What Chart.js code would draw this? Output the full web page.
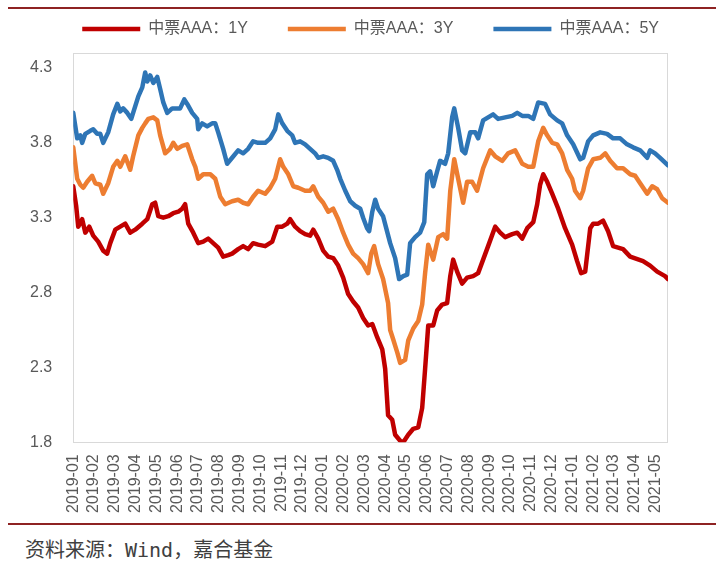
<!DOCTYPE html>
<html>
<head>
<meta charset="utf-8">
<script src="https://cdn.jsdelivr.net/npm/chart.js@4/dist/chart.umd.min.js"></script>
<style>
  html, body { margin: 0; padding: 0; background: #fff; overflow: hidden; }
  #wrap { position: relative; width: 716px; height: 568px; }
  #chart { position: absolute; left: 0; top: 0; }
  .rule { position: absolute; left: 8px; right: 0; height: 2px; background: #8e2323; }
  #source { position: absolute; left: 25px; top: 534px; font: 20px "DejaVu Sans Mono", "Noto Sans CJK SC", monospace; color: #404040; }
</style>
</head>
<body>
<div id="wrap">
  <div class="rule" style="top:7px"></div>
  <canvas id="chart" width="716" height="530"></canvas>
  <div class="rule" style="top:523px"></div>
  <div id="source">资料来源：Wind，嘉合基金</div>
</div>
<script>
// month labels on the x axis, one per month starting 2019-01
var monthLabels = ['2019-01', '2019-02', '2019-03', '2019-04', '2019-05', '2019-06',
  '2019-07', '2019-08', '2019-09', '2019-10', '2019-11', '2019-12',
  '2020-01', '2020-02', '2020-03', '2020-04', '2020-05', '2020-06',
  '2020-07', '2020-08', '2020-09', '2020-10', '2020-11', '2020-12',
  '2021-01', '2021-02', '2021-03', '2021-04', '2021-05'];
var yTicks = [1.8, 2.3, 2.8, 3.3, 3.8, 4.3];
var seriesNames = ['中票AAA：1Y', '中票AAA：3Y', '中票AAA：5Y'];
var colors = ['#c00000', '#ed7d31', '#2e75b6'];

// x = months since 2019-01-01, y = yield (%)
var x1Y = [0, 0.14, 0.24, 0.43, 0.58, 0.77, 0.96, 1.20, 1.44, 1.63,
  1.78, 2.02, 2.26, 2.50, 2.74, 2.98, 3.32, 3.56, 3.80, 3.94,
  4.09, 4.33, 4.57, 4.81, 5.05, 5.24, 5.38, 5.53, 5.77, 6.01,
  6.25, 6.49, 6.73, 6.97, 7.21, 7.45, 7.64, 7.93, 8.17, 8.41,
  8.65, 8.89, 9.23, 9.57, 9.81, 10.05, 10.29, 10.43, 10.67, 10.91,
  11.15, 11.39, 11.54, 11.78, 12.02, 12.26, 12.50, 12.74, 12.98, 13.22,
  13.46, 13.70, 13.94, 14.18, 14.38, 14.62, 14.86, 15.00, 15.14, 15.34,
  15.48, 15.72, 15.87, 16.11, 16.35, 16.59, 16.78, 16.92, 17.07, 17.31,
  17.50, 17.74, 17.98, 18.13, 18.27, 18.46, 18.70, 18.94, 19.23, 19.47,
  19.71, 19.95, 20.29, 20.53, 20.77, 21.11, 21.35, 21.59, 21.83, 22.12,
  22.31, 22.45, 22.60, 22.79, 23.03, 23.32, 23.65, 23.99, 24.23, 24.42,
  24.62, 24.86, 25.00, 25.24, 25.48, 25.72, 25.96, 26.44, 26.78, 27.40,
  27.74, 28.08, 28.46, 28.60];
var y1Y = [3.51, 3.38, 3.24, 3.29, 3.20, 3.24, 3.18, 3.14, 3.08, 3.06,
  3.13, 3.22, 3.24, 3.26, 3.20, 3.22, 3.26, 3.29, 3.39, 3.40,
  3.31, 3.30, 3.31, 3.33, 3.34, 3.36, 3.39, 3.26, 3.20, 3.13,
  3.14, 3.16, 3.13, 3.10, 3.04, 3.05, 3.06, 3.09, 3.11, 3.09,
  3.13, 3.12, 3.11, 3.14, 3.24, 3.24, 3.26, 3.29, 3.24, 3.21,
  3.19, 3.18, 3.22, 3.16, 3.08, 3.04, 3.03, 2.98, 2.90, 2.79,
  2.74, 2.70, 2.63, 2.58, 2.59, 2.50, 2.42, 2.29, 1.98, 1.95,
  1.85, 1.81, 1.80, 1.85, 1.89, 1.90, 2.03, 2.29, 2.58, 2.58,
  2.68, 2.72, 2.73, 2.91, 3.02, 2.94, 2.86, 2.90, 2.91, 2.93,
  3.02, 3.11, 3.24, 3.20, 3.17, 3.19, 3.20, 3.16, 3.23, 3.27,
  3.39, 3.52, 3.59, 3.54, 3.46, 3.36, 3.23, 3.12, 3.01, 2.93,
  2.94, 3.23, 3.26, 3.26, 3.28, 3.21, 3.11, 3.09, 3.04, 3.01,
  2.98, 2.94, 2.91, 2.89];

var x3Y = [0, 0.19, 0.34, 0.48, 0.67, 0.91, 1.06, 1.30, 1.44, 1.68,
  1.92, 2.12, 2.26, 2.50, 2.74, 2.88, 3.13, 3.32, 3.46, 3.61,
  3.85, 4.04, 4.18, 4.42, 4.66, 4.81, 5.00, 5.24, 5.48, 5.72,
  5.87, 6.01, 6.25, 6.59, 6.83, 7.07, 7.31, 7.64, 7.93, 8.17,
  8.41, 8.65, 8.89, 9.23, 9.47, 9.71, 9.95, 10.10, 10.34, 10.58,
  10.82, 11.15, 11.39, 11.54, 11.78, 12.02, 12.26, 12.50, 12.74, 12.98,
  13.22, 13.46, 13.70, 13.94, 14.18, 14.33, 14.47, 14.66, 14.90, 15.14,
  15.24, 15.38, 15.58, 15.72, 15.96, 16.11, 16.35, 16.59, 16.78, 16.92,
  17.07, 17.31, 17.55, 17.79, 17.98, 18.13, 18.32, 18.51, 18.75, 18.94,
  19.18, 19.42, 19.71, 20.05, 20.29, 20.63, 20.91, 21.25, 21.59, 21.88,
  22.12, 22.36, 22.60, 22.79, 23.03, 23.27, 23.51, 23.75, 23.99, 24.13,
  24.38, 24.52, 24.76, 25.00, 25.34, 25.58, 25.82, 26.15, 26.44, 26.78,
  27.02, 27.26, 27.60, 27.84, 28.08, 28.32, 28.60];
var y3Y = [3.77, 3.56, 3.52, 3.50, 3.54, 3.58, 3.53, 3.52, 3.46, 3.53,
  3.64, 3.68, 3.64, 3.71, 3.62, 3.71, 3.85, 3.90, 3.93, 3.96,
  3.97, 3.95, 3.85, 3.73, 3.76, 3.80, 3.76, 3.78, 3.79, 3.69,
  3.64, 3.56, 3.59, 3.59, 3.56, 3.44, 3.39, 3.41, 3.42, 3.40,
  3.39, 3.44, 3.48, 3.46, 3.50, 3.56, 3.69, 3.64, 3.59, 3.51,
  3.50, 3.48, 3.48, 3.51, 3.44, 3.40, 3.34, 3.36, 3.29, 3.20,
  3.12, 3.06, 3.03, 2.99, 2.93, 3.06, 3.11, 2.99, 2.89, 2.73,
  2.55, 2.49, 2.40, 2.33, 2.35, 2.48, 2.56, 2.61, 2.72, 2.93,
  3.12, 3.02, 3.17, 3.19, 3.16, 3.48, 3.69, 3.56, 3.40, 3.54,
  3.54, 3.48, 3.63, 3.75, 3.71, 3.68, 3.73, 3.75, 3.66, 3.64,
  3.64, 3.81, 3.90, 3.85, 3.80, 3.79, 3.73, 3.62, 3.56, 3.48,
  3.43, 3.48, 3.63, 3.69, 3.70, 3.73, 3.68, 3.63, 3.63, 3.59,
  3.58, 3.53, 3.46, 3.51, 3.49, 3.43, 3.40];

var x5Y = [0, 0.19, 0.34, 0.43, 0.58, 0.82, 0.96, 1.15, 1.30, 1.44,
  1.68, 1.92, 2.12, 2.26, 2.40, 2.60, 2.79, 2.88, 3.13, 3.32,
  3.46, 3.56, 3.70, 3.85, 4.04, 4.18, 4.33, 4.52, 4.76, 4.90,
  5.14, 5.34, 5.48, 5.72, 5.96, 6.01, 6.20, 6.44, 6.68, 6.83,
  6.97, 7.21, 7.40, 7.64, 7.93, 8.17, 8.41, 8.65, 8.89, 9.23,
  9.47, 9.71, 9.86, 10.05, 10.29, 10.53, 10.67, 10.91, 11.15, 11.39,
  11.63, 11.78, 12.02, 12.26, 12.50, 12.69, 12.84, 13.08, 13.32, 13.56,
  13.80, 13.94, 14.13, 14.23, 14.38, 14.52, 14.66, 14.90, 15.05, 15.24,
  15.48, 15.67, 15.87, 16.06, 16.20, 16.44, 16.68, 16.88, 17.02, 17.16,
  17.31, 17.50, 17.64, 17.88, 18.03, 18.22, 18.32, 18.51, 18.70, 18.85,
  19.09, 19.33, 19.47, 19.71, 19.95, 20.19, 20.43, 20.77, 21.11, 21.35,
  21.59, 21.88, 22.12, 22.36, 22.69, 22.93, 23.27, 23.51, 23.75, 24.04,
  24.38, 24.52, 24.76, 25.00, 25.34, 25.67, 25.96, 26.30, 26.63, 26.92,
  27.26, 27.60, 27.74, 27.98, 28.22, 28.60];
var y5Y = [4.00, 3.83, 3.85, 3.80, 3.86, 3.88, 3.89, 3.86, 3.86, 3.80,
  3.87, 3.99, 4.06, 4.01, 4.03, 4.00, 3.96, 4.00, 4.11, 4.17,
  4.27, 4.21, 4.25, 4.20, 4.24, 4.16, 4.07, 4.00, 4.03, 4.03,
  4.03, 4.09, 4.06, 4.00, 3.96, 3.89, 3.93, 3.91, 3.93, 3.93,
  3.87, 3.76, 3.66, 3.70, 3.75, 3.73, 3.76, 3.81, 3.80, 3.80,
  3.83, 3.89, 3.99, 3.93, 3.88, 3.85, 3.80, 3.81, 3.79, 3.76,
  3.73, 3.70, 3.71, 3.70, 3.68, 3.62, 3.56, 3.48, 3.41, 3.38,
  3.36, 3.30, 3.23, 3.21, 3.34, 3.42, 3.36, 3.31, 3.23, 3.13,
  3.03, 2.89, 2.91, 2.92, 3.13, 3.17, 3.20, 3.27, 3.59, 3.61,
  3.51, 3.61, 3.68, 3.66, 3.73, 3.97, 4.03, 3.90, 3.75, 3.73,
  3.87, 3.87, 3.83, 3.95, 3.97, 3.99, 3.96, 3.97, 3.98, 4.00,
  3.98, 3.98, 3.96, 4.07, 4.06, 3.99, 3.95, 3.93, 3.85, 3.79,
  3.69, 3.70, 3.81, 3.85, 3.87, 3.86, 3.83, 3.83, 3.79, 3.77,
  3.75, 3.70, 3.75, 3.73, 3.70, 3.65];

function toPoints(xs, ys) {
  return xs.map((x, i) => ({x: x, y: ys[i]}));
}

// keep the legend on one row and leave a bit of room under it
const legendFit = {
  id: 'legendFit',
  beforeInit(chart) {
    const fit = chart.legend.fit;
    chart.legend.fit = function () {
      this.maxWidth = Math.max(this.maxWidth, chart.width);
      fit.call(this);
      this.height += 6;
    };
  },
  afterLayout(chart) {
    // widen the legend box both ways so the row is not wrapped when drawn
    const l = chart.legend;
    l.left -= 60;
    l.right += 60;
    l.width += 120;
  }
};

// light grey frame round the plot area
const plotFrame = {
  id: 'plotFrame',
  beforeDatasetsDraw(chart) {
    const a = chart.chartArea;
    const ctx = chart.ctx;
    ctx.save();
    ctx.strokeStyle = '#d9d9d9';
    ctx.lineWidth = 1;
    ctx.strokeRect(Math.round(a.left) + 0.5, Math.round(a.top) + 0.5,
      Math.round(a.right - a.left) - 1, Math.round(a.bottom - a.top));
    ctx.restore();
  }
};

const tickFont = {family: '"Liberation Sans", Arial, sans-serif', size: 16};

const allSeries = [[x1Y, y1Y], [x3Y, y3Y], [x5Y, y5Y]];

new Chart('chart', {
  type: 'line',
  data: {
    datasets: allSeries.map((s, i) => ({
      label: seriesNames[i],
      data: toPoints(s[0], s[1]),
      borderColor: colors[i],
      backgroundColor: colors[i],
      borderWidth: 4.5,
      borderCapStyle: 'round',
      borderJoinStyle: 'round',
      pointRadius: 0,
      tension: 0
    }))
  },
  options: {
    responsive: false,
    animation: false,
    layout: {padding: {left: 9, right: 48, top: -19, bottom: 5}},
    plugins: {
      tooltip: {enabled: false},
      legend: {
        fullSize: false,
        labels: {
          usePointStyle: true,
          pointStyle: 'line',
          pointStyleWidth: 58,
          padding: 40,
          color: '#595959',
          font: {family: '"Liberation Sans", "Noto Sans CJK SC", sans-serif', size: 16}
        }
      }
    },
    scales: {
      x: {
        type: 'linear',
        min: 0,
        max: 28.6,
        grid: {display: false, drawTicks: false},
        border: {display: false},
        afterBuildTicks: axis => { axis.ticks = monthLabels.map((m, i) => ({value: i})); },
        ticks: {
          autoSkip: false,
          minRotation: 90,
          maxRotation: 90,
          padding: 12,
          color: '#595959',
          font: tickFont,
          callback: v => monthLabels[v]
        }
      },
      y: {
        min: 1.8,
        max: 4.4,
        grid: {display: false, drawTicks: false},
        border: {display: false},
        afterBuildTicks: axis => { axis.ticks = yTicks.map(v => ({value: v})); },
        ticks: {
          padding: 21,
          color: '#595959',
          font: tickFont,
          callback: v => v.toFixed(1)
        }
      }
    }
  },
  plugins: [legendFit, plotFrame]
});
</script>
</body>
</html>
